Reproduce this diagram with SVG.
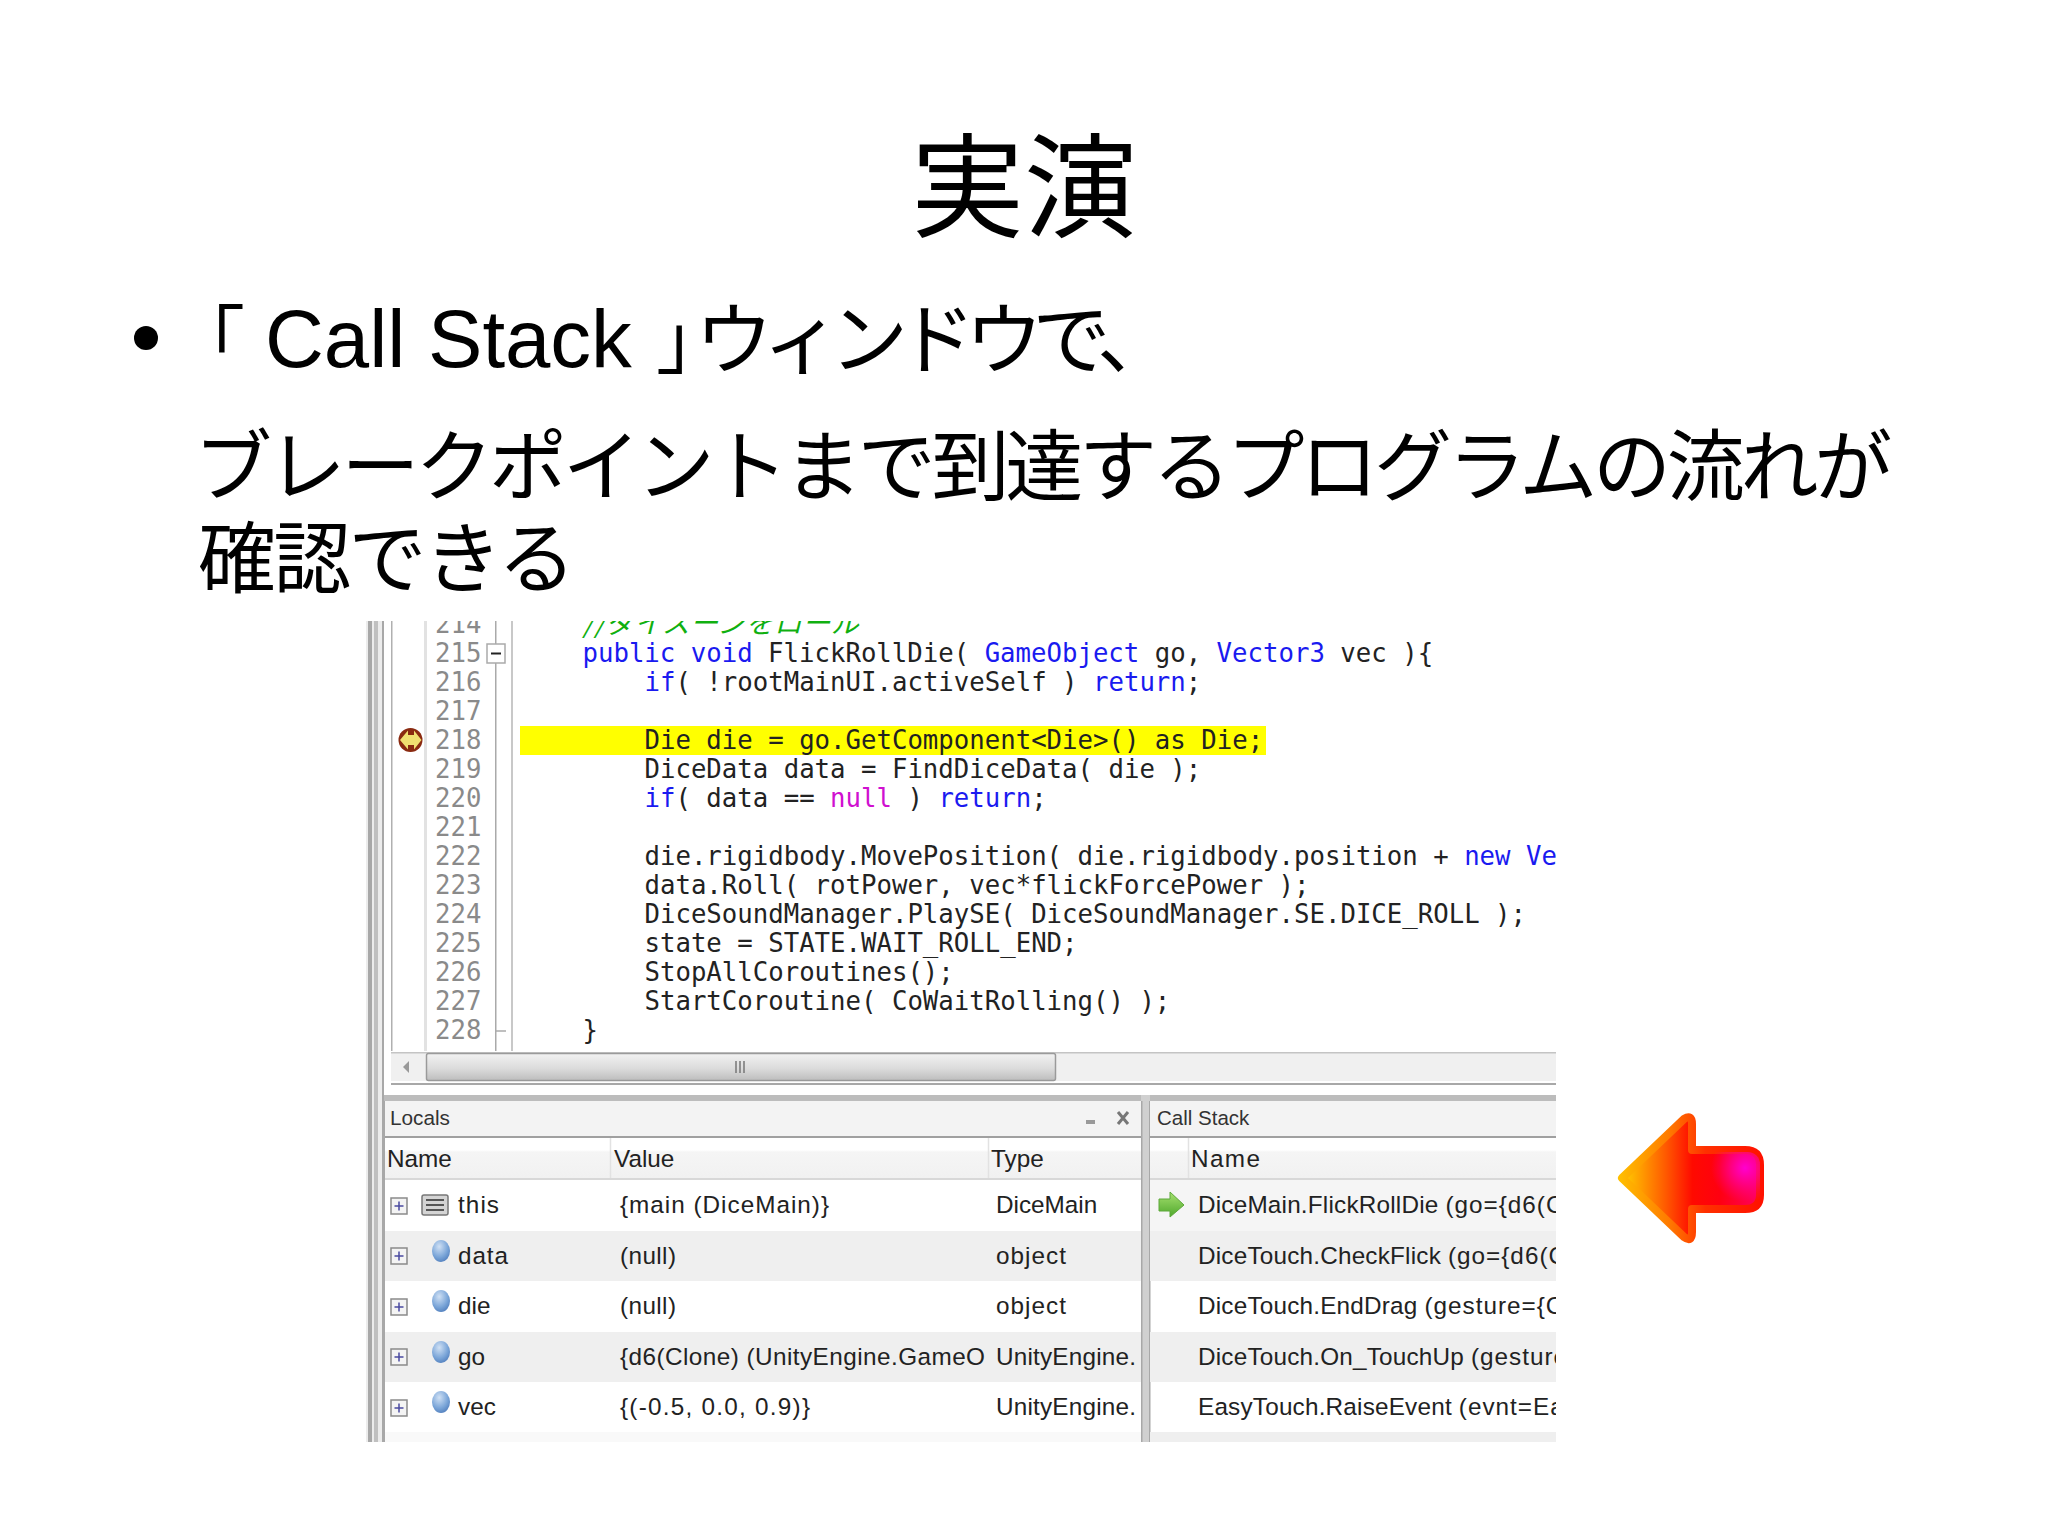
<svg xmlns="http://www.w3.org/2000/svg" width="2048" height="1535" viewBox="0 0 2048 1535">
<style>
.jp{font-family:"Noto Sans CJK JP","Liberation Sans",sans-serif;fill:#000}
.la{font-family:"Liberation Sans",Arial,sans-serif;fill:#000}
.code{font-family:"DejaVu Sans Mono",monospace;font-size:25.7px;fill:#222;white-space:pre}
.num{font-family:"DejaVu Sans Mono",monospace;font-size:25.7px;fill:#8a8a8a}
.k{fill:#1a1af0}.n{fill:#d010d0}
.ui{font-family:"Liberation Sans",Arial,sans-serif;font-size:24.3px;fill:#222}
.cs{letter-spacing:.2px}
.ar{letter-spacing:1px}
.tt{font-family:"Liberation Sans",Arial,sans-serif;font-size:20.5px;fill:#333}
.plus{fill:#f4f4f4;stroke:#8a8a8a;stroke-width:1.5}
.pm{stroke:#4a4aa0;stroke-width:1.5}
</style>
<defs>
<clipPath id="shot"><rect x="366" y="621" width="1190" height="821"/></clipPath>
<linearGradient id="thumb" x1="0" y1="0" x2="0" y2="1"><stop offset="0" stop-color="#f2f2f2"/><stop offset=".55" stop-color="#dcdcdc"/><stop offset="1" stop-color="#bdbdbd"/></linearGradient>
<linearGradient id="hdr" x1="0" y1="0" x2="0" y2="1"><stop offset="0" stop-color="#fff"/><stop offset=".3" stop-color="#fff"/><stop offset=".35" stop-color="#f5f5f5"/><stop offset="1" stop-color="#f1f1f1"/></linearGradient>
<radialGradient id="ball" cx=".4" cy=".3" r=".8"><stop offset="0" stop-color="#cfe0f4"/><stop offset=".6" stop-color="#7aa5d8"/><stop offset="1" stop-color="#4a78b8"/></radialGradient>
<linearGradient id="outer" gradientUnits="userSpaceOnUse" x1="1618" y1="1178" x2="1764" y2="1178"><stop offset="0" stop-color="#ffc000"/><stop offset=".35" stop-color="#ff7a00"/><stop offset=".6" stop-color="#ff3000"/><stop offset="1" stop-color="#ff1000"/></linearGradient>
<linearGradient id="inner" gradientUnits="userSpaceOnUse" x1="1625" y1="1178" x2="1760" y2="1178"><stop offset="0" stop-color="#ffc800"/><stop offset=".3" stop-color="#ff5a00"/><stop offset=".5" stop-color="#ff0a00"/><stop offset=".7" stop-color="#ff0010"/><stop offset="1" stop-color="#ff0060"/></linearGradient>
<radialGradient id="mag" gradientUnits="userSpaceOnUse" cx="1745" cy="1168" r="34"><stop offset="0" stop-color="#ff00d0"/><stop offset="1" stop-color="#ff00a0" stop-opacity="0"/></radialGradient>
<linearGradient id="grn" x1="0" y1="0" x2="0" y2="1"><stop offset="0" stop-color="#a6e070"/><stop offset="1" stop-color="#4fa82c"/></linearGradient>
<g id="ballIcon"><ellipse cx="0" cy="0" rx="9" ry="11" fill="url(#ball)"/></g>
<g id="plusIcon"><rect x="-8" y="-8" width="16" height="16" class="plus"/><path d="M-4.500 0H4.500M0-4.500V4.500" class="pm"/></g>
</defs>
<rect width="2048" height="1535" fill="#fff"/>

<g id="title"><text x="1024" y="228" text-anchor="middle" class="jp" font-size="113">実演</text></g>
<g id="body">
<circle cx="146" cy="338" r="12" fill="#000"/>
<text class="jp" font-size="74"><tspan x="171" y="367">「</tspan><tspan x="265" y="367" class="la" font-size="81.500">Call Stack</tspan><tspan x="656" y="367">」</tspan><tspan x="695" y="368" font-size="78" letter-spacing="-10.500">ウィンドウで、</tspan></text>
<text class="jp" font-size="78"><tspan x="194" y="495" letter-spacing="-4.250">ブレークポイントまで到達するプログラムの流れが</tspan><tspan x="198" y="587" letter-spacing="-2.700">確認できる</tspan></text>
</g>

<g id="screenshot" clip-path="url(#shot)">
<g id="left-bands">
<rect x="366" y="621" width="18" height="821" fill="#ececec"/>
<rect x="368" y="621" width="4" height="821" fill="#a8a8a8"/>
<rect x="374" y="621" width="4" height="821" fill="#c0c0c0"/>
<rect x="382" y="621" width="2" height="821" fill="#a8a8a8"/>
</g>
<g id="editor">
<rect x="391" y="621" width="1.500" height="430" fill="#b0b0b0"/>
<rect x="424" y="621" width="3" height="430" fill="#e2e2e2"/>
<rect x="495" y="621" width="1.500" height="430" fill="#aaa"/>
<rect x="511" y="621" width="2" height="430" fill="#c8c8c8"/>
<path d="M496 1031H506" stroke="#aaa" stroke-width="1.500"/>
<rect x="487" y="644" width="18" height="19" fill="#fff" stroke="#aaa" stroke-width="1.500"/>
<path d="M491 653.500H501" stroke="#222" stroke-width="2"/>
<rect x="520" y="726" width="746" height="29" fill="#ffff00"/>
<g id="breakpoint"><circle cx="410.500" cy="740" r="12" fill="#8a2a10"/><path d="M400 740L408 730.500V735H414V730.500L421.500 740L414 749.500V745H408V749.500Z" fill="#f0e070"/></g>
<g class="num">
<text x="435" y="633">214</text><text x="435" y="662">215</text><text x="435" y="691">216</text><text x="435" y="720">217</text><text x="435" y="749">218</text><text x="435" y="778">219</text><text x="435" y="807">220</text><text x="435" y="836">221</text><text x="435" y="865">222</text><text x="435" y="894">223</text><text x="435" y="923">224</text><text x="435" y="952">225</text><text x="435" y="981">226</text><text x="435" y="1010">227</text><text x="435" y="1039">228</text>
</g>
<text x="583" y="633" font-family="Noto Sans CJK JP,sans-serif" font-size="28" font-style="italic" fill="#10b010" letter-spacing=".4">//ダイスーンをロール</text>
<g class="code">
<text x="582.500" y="662"><tspan class="k">public</tspan> <tspan class="k">void</tspan> FlickRollDie( <tspan class="k">GameObject</tspan> go, <tspan class="k">Vector3</tspan> vec ){</text>
<text x="644.500" y="691"><tspan class="k">if</tspan>( !rootMainUI.activeSelf ) <tspan class="k">return</tspan>;</text>
<text x="644.500" y="749">Die die = go.GetComponent&lt;Die&gt;() as Die;</text>
<text x="644.500" y="778">DiceData data = FindDiceData( die );</text>
<text x="644.500" y="807"><tspan class="k">if</tspan>( data == <tspan class="n">null</tspan> ) <tspan class="k">return</tspan>;</text>
<text x="644.500" y="865">die.rigidbody.MovePosition( die.rigidbody.position + <tspan class="k">new</tspan> <tspan class="k">Ve</tspan></text>
<text x="644.500" y="894">data.Roll( rotPower, vec*flickForcePower );</text>
<text x="644.500" y="923">DiceSoundManager.PlaySE( DiceSoundManager.SE.DICE_ROLL );</text>
<text x="644.500" y="952">state = STATE.WAIT_ROLL_END;</text>
<text x="644.500" y="981">StopAllCoroutines();</text>
<text x="644.500" y="1010">StartCoroutine( CoWaitRolling() );</text>
<text x="582.500" y="1039">}</text>
</g>
</g>
<g id="scrollbar">
<rect x="391" y="1053" width="1165" height="28" fill="#f0f0f0"/>
<rect x="391" y="1052" width="1165" height="1.500" fill="#c4c4c4"/>
<rect x="426.500" y="1053.500" width="629" height="27" rx="2" fill="url(#thumb)" stroke="#9a9a9a" stroke-width="1.500"/>
<path d="M403 1067L409 1061V1073Z" fill="#999"/>
<path d="M736 1061V1073M740 1061V1073M744 1061V1073" stroke="#777" stroke-width="1.500"/>
<rect x="391" y="1083" width="1165" height="2" fill="#a8a8a8"/>
<rect x="384" y="1095" width="1172" height="6" fill="#bcbcbc"/>
</g>
<g id="locals-panel">
<rect x="384" y="1101" width="757" height="36" fill="#f3f3f3"/>
<rect x="384" y="1136" width="757" height="2" fill="#a0a0a0"/>
<rect x="384" y="1138" width="757" height="40" fill="url(#hdr)"/>
<rect x="384" y="1178" width="757" height="2" fill="#d8d8d8"/>
<rect x="384" y="1231" width="757" height="50" fill="#efefef"/>
<rect x="384" y="1332" width="757" height="50" fill="#efefef"/>
<rect x="384" y="1432" width="757" height="10" fill="#f9f9f9"/>
<rect x="383" y="1101" width="2" height="341" fill="#a8a8a8"/>
<path d="M610.500 1138V1178M988.500 1138V1178" stroke="#e2e2e2" stroke-width="1.500"/>
<text x="390" y="1125" class="tt" textLength="60" lengthAdjust="spacingAndGlyphs">Locals</text>
<rect x="1086" y="1120" width="9" height="4" fill="#999"/>
<path d="M1118 1112L1128 1124M1128 1112L1118 1124" stroke="#777" stroke-width="3"/>
<text x="387" y="1167" class="ui">Name</text><text x="614" y="1167" class="ui">Value</text><text x="991" y="1167" class="ui">Type</text>
<use href="#plusIcon" x="399" y="1206"/><use href="#plusIcon" x="399" y="1256"/><use href="#plusIcon" x="399" y="1307"/><use href="#plusIcon" x="399" y="1357"/><use href="#plusIcon" x="399" y="1408"/>
<g id="this-icon"><rect x="422" y="1195" width="26" height="20" rx="2" fill="#d4d4d4" stroke="#777" stroke-width="1.500"/><path d="M426 1200H444M426 1205H444M426 1210H444" stroke="#555" stroke-width="2"/></g>
<use href="#ballIcon" x="441" y="1251"/><use href="#ballIcon" x="441" y="1301"/><use href="#ballIcon" x="441" y="1352"/><use href="#ballIcon" x="441" y="1402"/>
<text x="458" y="1213" class="ui" textLength="41">this</text><text x="620" y="1213" class="ui" textLength="209">{main (DiceMain)}</text><text x="996" y="1213" class="ui">DiceMain</text>
<text x="458" y="1264" class="ui" textLength="50">data</text><text x="620" y="1264" class="ui" textLength="56">(null)</text><text x="996" y="1264" class="ui" textLength="70">object</text>
<text x="458" y="1314" class="ui">die</text><text x="620" y="1314" class="ui" textLength="56">(null)</text><text x="996" y="1314" class="ui" textLength="70">object</text>
<text x="458" y="1365" class="ui">go</text><text x="620" y="1365" class="ui" textLength="365">{d6(Clone) (UnityEngine.GameO</text><text x="996" y="1365" class="ui" textLength="140">UnityEngine.</text>
<text x="458" y="1415" class="ui">vec</text><text x="620" y="1415" class="ui" textLength="190">{(-0.5, 0.0, 0.9)}</text><text x="996" y="1415" class="ui" textLength="140">UnityEngine.</text>
</g>
<rect x="1141" y="1095" width="9" height="347" fill="#d0d0d0"/>
<rect x="1141" y="1101" width="1.500" height="341" fill="#a8a8a8"/>
<rect x="1149" y="1101" width="1.500" height="341" fill="#a8a8a8"/>
<g id="callstack-panel">
<rect x="1150" y="1101" width="406" height="36" fill="#f3f3f3"/>
<rect x="1150" y="1136" width="406" height="2" fill="#a0a0a0"/>
<rect x="1150" y="1138" width="406" height="40" fill="url(#hdr)"/>
<rect x="1150" y="1178" width="406" height="2" fill="#d8d8d8"/>
<rect x="1150" y="1180" width="406" height="51" fill="#f5f5f5"/>
<rect x="1150" y="1231" width="406" height="50" fill="#efefef"/>
<rect x="1150" y="1332" width="406" height="50" fill="#efefef"/>
<rect x="1150" y="1432" width="406" height="10" fill="#efefef"/>
<path d="M1188.500 1138V1178" stroke="#e2e2e2" stroke-width="1.500"/>
<text x="1157" y="1125" class="tt">Call Stack</text>
<text x="1191" y="1167" class="ui" textLength="69">Name</text>
<path id="current-frame" d="M1159 1199H1170V1192L1184 1205L1170 1217V1211H1159Z" fill="url(#grn)" stroke="#5da83a" stroke-width="1"/>
<text x="1198" y="1213" class="ui cs">DiceMain.FlickRollDie <tspan class="ar">(go={d6(C</tspan></text>
<text x="1198" y="1264" class="ui cs">DiceTouch.CheckFlick <tspan class="ar">(go={d6(C</tspan></text>
<text x="1198" y="1314" class="ui cs">DiceTouch.EndDrag <tspan class="ar">(gesture={C</tspan></text>
<text x="1198" y="1365" class="ui cs">DiceTouch.On_TouchUp <tspan class="ar">(gesture</tspan></text>
<text x="1198" y="1415" class="ui cs">EasyTouch.RaiseEvent <tspan class="ar">(evnt=Ea</tspan></text>
</g>
</g>

<g id="red-arrow">
<path d="M1622 1178L1684 1119Q1692 1114 1692 1124V1150H1745Q1760 1150 1760 1165V1195Q1760 1209 1745 1209H1692V1232Q1692 1243 1684 1237Z" fill="url(#inner)" stroke="url(#outer)" stroke-width="8" stroke-linejoin="round"/>
<rect x="1700" y="1152" width="60" height="55" rx="12" fill="url(#mag)"/>
</g>
</svg>
